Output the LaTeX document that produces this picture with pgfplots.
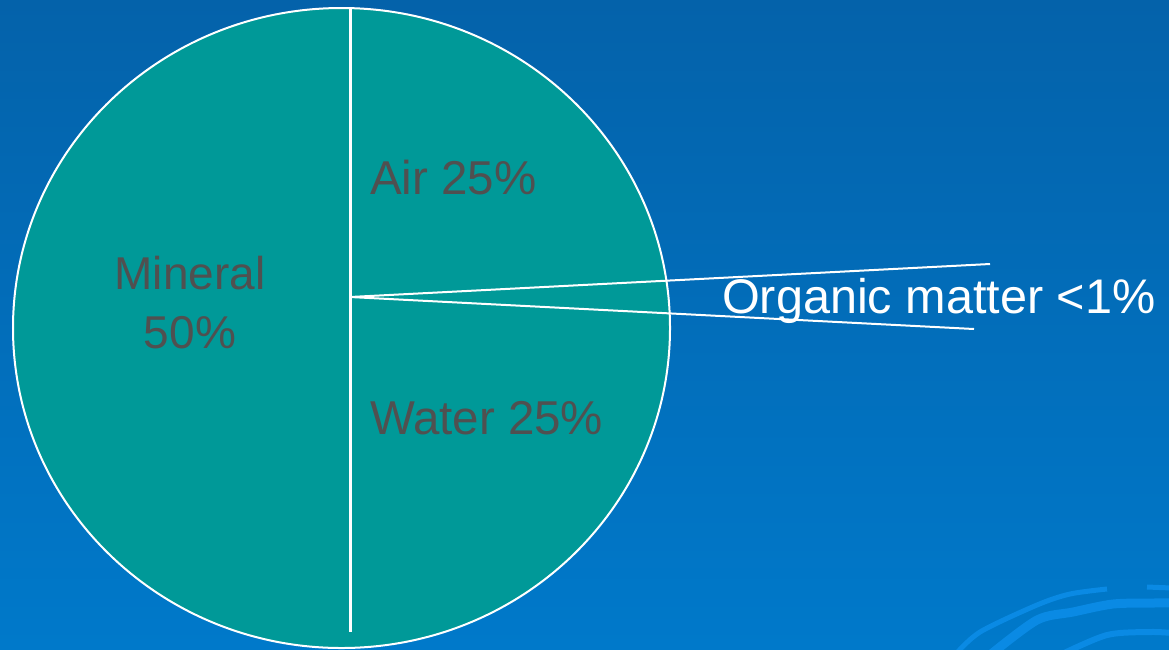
\documentclass[border=0pt]{standalone}
\usepackage{pgfplots}
\pgfplotsset{compat=1.18}
\usepackage{fontspec}
\setmainfont{Liberation Sans}

% colours of the slide and the pie
\definecolor{slidetop}{RGB}{4,98,170}
\definecolor{slidebottom}{RGB}{0,121,202}
\definecolor{swoosh}{RGB}{10,138,228}
\definecolor{soilteal}{RGB}{0,153,152}
\definecolor{labelgray}{RGB}{80,80,80}

\begin{document}
\begin{tikzpicture}
\begin{axis}[
  width=584.5pt, height=324.5pt, scale only axis,
  xmin=0, xmax=1169, ymin=0, ymax=649, y dir=reverse,
  hide axis, clip=true,
]
% slide background
\fill[top color=slidetop, bottom color=slidebottom]
  (axis cs:0,0) rectangle (axis cs:1169,649);

% decorative swooshes in the corner
\addplot[swoosh, line width=2.5pt, smooth, line cap=butt]
  coordinates {(955,655) (980,632) (1037,605) (1070,594) (1107,589)};
\addplot[swoosh, line width=2.5pt, line cap=butt]
  coordinates {(1147,587) (1172,588)};
\addplot[swoosh, line width=4.5pt, smooth, line cap=butt]
  coordinates {(990,655) (1037,620) (1073,612) (1113,604) (1153,603) (1172,603)};
\addplot[swoosh, line width=3pt, smooth, line cap=butt]
  coordinates {(1060,655) (1107,635) (1150,632) (1172,633)};

% the pie body (1 px = 0.5 pt)
\draw[white, line width=1pt, fill=soilteal]
  (axis cs:341.5,328) ellipse [x radius=164.25pt, y radius=160pt];

% Mineral 50% | Air and Water 25% each
\addplot[white, line width=1.5pt] coordinates {(350,8) (350,632)};
% organic matter wedge, drawn out past the rim
\addplot[white, line width=1pt] coordinates {(990,264) (350,297) (974,329)};

% labels
\node[anchor=base west, text=labelgray, font=\fontsize{23.75}{28}\selectfont]
  at (axis cs:363,194) {Air 25\%};
\node[anchor=base west, text=labelgray, font=\fontsize{23.75}{28}\selectfont]
  at (axis cs:363,434) {Water 25\%};
\node[anchor=base, text=labelgray, font=\fontsize{23}{28}\selectfont]
  at (axis cs:190,289) {Mineral};
\node[anchor=base, text=labelgray, font=\fontsize{23}{28}\selectfont]
  at (axis cs:190,348) {50\%};
\node[anchor=base west, text=white, font=\fontsize{24.3}{28}\selectfont]
  at (axis cs:715,313) {Organic matter <1\%};
\end{axis}
\end{tikzpicture}
\end{document}
